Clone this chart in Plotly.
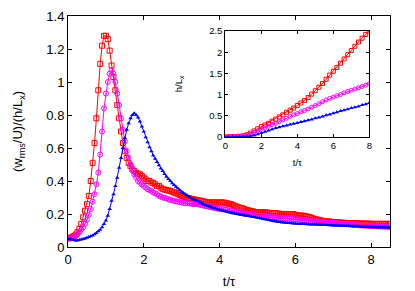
import numpy as np
import plotly.graph_objects as go

# time grid (t/tau) for the main panel, step 0.05
t_main = list(np.round(np.arange(0, 8.5001, 0.05), 2))

red_main = [
    0.055, 0.055, 0.06, 0.065, 0.075, 0.09, 0.11, 0.14, 0.18, 0.22,
    0.26, 0.31, 0.40, 0.51, 0.63, 0.78, 0.95, 1.11, 1.22, 1.28,
    1.28, 1.26, 1.19, 1.10, 1.03, 0.95, 0.86, 0.78, 0.70, 0.63,
    0.58, 0.54, 0.51, 0.49, 0.47, 0.46, 0.45, 0.445, 0.44, 0.43,
    0.42, 0.41, 0.40, 0.40, 0.39, 0.39, 0.38, 0.37, 0.37, 0.36, 0.35,
    0.348, 0.345, 0.342, 0.34, 0.335, 0.33, 0.325, 0.32, 0.315, 0.31,
    0.305, 0.30, 0.297, 0.295, 0.292, 0.29, 0.287, 0.285, 0.282, 0.28,
    0.277, 0.275, 0.272, 0.27, 0.27, 0.27, 0.27, 0.27, 0.27, 0.27,
    0.27, 0.27, 0.268, 0.265, 0.262, 0.26, 0.255, 0.25, 0.245, 0.24,
    0.237, 0.235, 0.23, 0.225, 0.222, 0.22, 0.217, 0.215, 0.212, 0.21,
    0.21, 0.21, 0.21, 0.21, 0.21, 0.205, 0.205, 0.205, 0.205, 0.205,
    0.202, 0.20, 0.20, 0.20, 0.20, 0.20, 0.20, 0.20, 0.20, 0.195,
    0.193, 0.19, 0.19, 0.19, 0.187, 0.185, 0.182, 0.18, 0.175, 0.17,
    0.167, 0.165, 0.162, 0.16, 0.157, 0.155, 0.155, 0.155, 0.152, 0.15,
    0.15, 0.15, 0.149, 0.148, 0.147, 0.146, 0.145, 0.145, 0.145, 0.145,
    0.145, 0.144, 0.143, 0.143, 0.142, 0.142, 0.142, 0.142, 0.141, 0.141,
    0.14, 0.14, 0.14, 0.14, 0.14, 0.14, 0.14, 0.14, 0.14, 0.14]

magenta_main = [
    0.05, 0.05, 0.055, 0.06, 0.065, 0.075, 0.09, 0.105, 0.12, 0.14,
    0.165, 0.195, 0.23, 0.275, 0.32, 0.38, 0.45, 0.56, 0.70, 0.84,
    0.93, 1.00, 1.05, 1.07, 1.05, 1.00, 0.93, 0.86, 0.78, 0.71,
    0.64, 0.58, 0.54, 0.50, 0.47, 0.44, 0.42, 0.40, 0.39, 0.38,
    0.37, 0.36, 0.35, 0.345, 0.34, 0.33, 0.325, 0.32, 0.31, 0.305, 0.30,
    0.297, 0.295, 0.29, 0.285, 0.282, 0.28, 0.277, 0.275, 0.272, 0.27,
    0.267, 0.265, 0.265, 0.265, 0.262, 0.26, 0.26, 0.26, 0.257, 0.255,
    0.252, 0.25, 0.247, 0.245, 0.242, 0.24, 0.237, 0.235, 0.232, 0.23,
    0.23, 0.23, 0.227, 0.225, 0.222, 0.22, 0.217, 0.215, 0.212, 0.21,
    0.207, 0.205, 0.202, 0.20, 0.20, 0.20, 0.197, 0.195, 0.192, 0.19,
    0.19, 0.19, 0.187, 0.185, 0.182, 0.18, 0.18, 0.18, 0.179, 0.178,
    0.177, 0.177, 0.176, 0.175, 0.173, 0.172, 0.171, 0.17, 0.169, 0.168,
    0.167, 0.166, 0.164, 0.163, 0.161, 0.16, 0.158, 0.157, 0.155, 0.154,
    0.153, 0.152, 0.151, 0.15, 0.149, 0.148, 0.147, 0.146, 0.145, 0.145,
    0.144, 0.143, 0.142, 0.141, 0.14, 0.139, 0.138, 0.137, 0.136, 0.135,
    0.134, 0.133, 0.132, 0.131, 0.13, 0.13, 0.129, 0.128, 0.127, 0.127,
    0.126, 0.126, 0.125, 0.125, 0.124, 0.124, 0.123, 0.123, 0.122, 0.122]

blue_main = [
    0.05, 0.048, 0.045, 0.042, 0.04, 0.04, 0.042, 0.045, 0.048, 0.052,
    0.056, 0.06, 0.065, 0.07, 0.077, 0.085, 0.095, 0.105, 0.12, 0.14,
    0.16, 0.19, 0.23, 0.28, 0.32, 0.37, 0.42, 0.48, 0.54, 0.60,
    0.66, 0.71, 0.75, 0.78, 0.80, 0.81, 0.80, 0.785, 0.76, 0.73,
    0.70, 0.665, 0.635, 0.605, 0.58, 0.555, 0.535, 0.515, 0.495, 0.475, 0.46,
    0.442, 0.425, 0.412, 0.40, 0.387, 0.375, 0.365, 0.355, 0.345, 0.335,
    0.327, 0.32, 0.312, 0.305, 0.297, 0.29, 0.285, 0.28, 0.275, 0.27,
    0.262, 0.255, 0.251, 0.248, 0.244, 0.24, 0.236, 0.233, 0.229, 0.226,
    0.223, 0.22, 0.217, 0.214, 0.211, 0.208, 0.205, 0.203, 0.20, 0.198,
    0.196, 0.194, 0.192, 0.19, 0.188, 0.186, 0.184, 0.182, 0.18, 0.178,
    0.175, 0.173, 0.17, 0.168, 0.165, 0.163, 0.16, 0.158, 0.156, 0.154,
    0.152, 0.151, 0.149, 0.148, 0.147, 0.146, 0.145, 0.144, 0.143, 0.142,
    0.141, 0.14, 0.14, 0.139, 0.139, 0.138, 0.138, 0.137, 0.137, 0.136,
    0.136, 0.135, 0.135, 0.134, 0.134, 0.133, 0.133, 0.132, 0.132, 0.131,
    0.131, 0.13, 0.13, 0.129, 0.129, 0.128, 0.128, 0.127, 0.127, 0.126,
    0.126, 0.125, 0.125, 0.124, 0.124, 0.123, 0.123, 0.122, 0.122, 0.121,
    0.121, 0.12, 0.12, 0.12, 0.12, 0.119, 0.119, 0.118, 0.118, 0.118]

# inset: h/L_x versus t/tau
t_inset = list(np.round(np.arange(0, 8.001, 0.2), 2))
red_inset = [0, 0, 0.005, 0.01, 0.015, 0.025, 0.05, 0.09, 0.14, 0.19,
             0.24, 0.28, 0.32, 0.37, 0.42, 0.47, 0.52, 0.58, 0.63, 0.68,
             0.74, 0.80, 0.86, 0.93, 1.01, 1.09, 1.17, 1.26, 1.36, 1.46,
             1.55, 1.64, 1.74, 1.84, 1.94, 2.04, 2.14, 2.24, 2.33, 2.42, 2.50]
magenta_inset = [0, 0, 0.003, 0.005, 0.008, 0.01, 0.03, 0.06, 0.10, 0.14,
                 0.18, 0.21, 0.25, 0.29, 0.32, 0.36, 0.40, 0.44, 0.48, 0.52,
                 0.55, 0.59, 0.62, 0.66, 0.70, 0.74, 0.78, 0.83, 0.87, 0.91,
                 0.94, 0.97, 1.00, 1.04, 1.07, 1.10, 1.13, 1.16, 1.19, 1.22, 1.26]
blue_inset = [0, 0, 0, 0.002, 0.004, 0.006, 0.008, 0.012, 0.03, 0.06,
              0.09, 0.12, 0.15, 0.18, 0.21, 0.23, 0.25, 0.27, 0.29, 0.31,
              0.33, 0.35, 0.37, 0.39, 0.41, 0.44, 0.46, 0.48, 0.51, 0.53,
              0.56, 0.58, 0.61, 0.63, 0.65, 0.68, 0.70, 0.72, 0.75, 0.77, 0.80]

main_xticks = [0, 2, 4, 6, 8]
main_yticks = [0, 0.2, 0.4, 0.6, 0.8, 1, 1.2, 1.4]
main_ylabels = ["0", "0.2", "0.4", "0.6", "0.8", "1", "1.2", "1.4"]
inset_xticks = [0, 2, 4, 6, 8]
inset_yticks = [0, 0.5, 1, 1.5, 2, 2.5]
inset_ylabels = ["0", "0.5", "1", "1.5", "2", "2.5"]

RED = "#ff0000"
MAG = "#ff00ff"
BLUE = "#0000ff"
FONT = "Liberation Sans, Arial, sans-serif"

fig = go.Figure()

def add(x, y, color, symbol, size, xa, ya, mlw=1):
    fig.add_trace(go.Scatter(
        x=x, y=y, mode="lines+markers", xaxis=xa, yaxis=ya,
        line=dict(color=color, width=1),
        marker=dict(symbol=symbol, size=size, color=color, line=dict(color=color, width=mlw)),
        showlegend=False, hoverinfo="skip"))

add(t_main, red_main, RED, "square-open", 5, "x", "y")
add(t_main, magenta_main, MAG, "circle-open-dot", 5, "x", "y")
add(t_main, blue_main, BLUE, "triangle-up", 4, "x", "y", mlw=0)

add(t_inset, red_inset, RED, "square-open", 4, "x2", "y2")
add(t_inset, magenta_inset, MAG, "circle-open", 4, "x2", "y2")
add(t_inset, blue_inset, BLUE, "triangle-up", 4, "x2", "y2", mlw=0)

axis_common = dict(showgrid=False, zeroline=False, showline=True, linecolor="black",
                   linewidth=1, mirror="allticks", ticks="inside", tickcolor="black",
                   automargin=False)

# the page body adds an 8px offset, so the figure is 8px smaller than the window
fig.update_layout(
    width=407, height=283,
    margin=dict(l=60, r=25, t=8, b=44),
    paper_bgcolor="white", plot_bgcolor="white",
    font=dict(family=FONT, color="black", size=13),
    xaxis=dict(range=[0, 8.5], tickvals=main_xticks, ticklen=4,
               title=dict(text="t/τ", standoff=11, font=dict(size=13)),
               tickfont=dict(size=13), domain=[0, 1], **axis_common),
    yaxis=dict(range=[0, 1.4], tickvals=main_yticks, ticktext=main_ylabels, ticklen=4,
               title=dict(text="(w<sub>rms</sub>/U)/(h/L<sub>x</sub>)", standoff=20, font=dict(size=13)),
               tickfont=dict(size=13), domain=[0, 1], **axis_common),
    xaxis2=dict(range=[0, 8], tickvals=inset_xticks, ticklen=3, anchor="y2",
                domain=[0.4885, 0.9357],
                title=dict(text="t/τ", standoff=9, font=dict(size=9.5)),
                tickfont=dict(size=9.5), **axis_common),
    yaxis2=dict(range=[0, 2.5], tickvals=inset_yticks, ticktext=inset_ylabels, ticklen=3,
                anchor="x2", domain=[0.4768, 0.935],
                title=dict(text="h/L<sub>x</sub>", standoff=24, font=dict(size=9.5)),
                tickfont=dict(size=9.5), **axis_common),
)

fig.write_html("out.html")
